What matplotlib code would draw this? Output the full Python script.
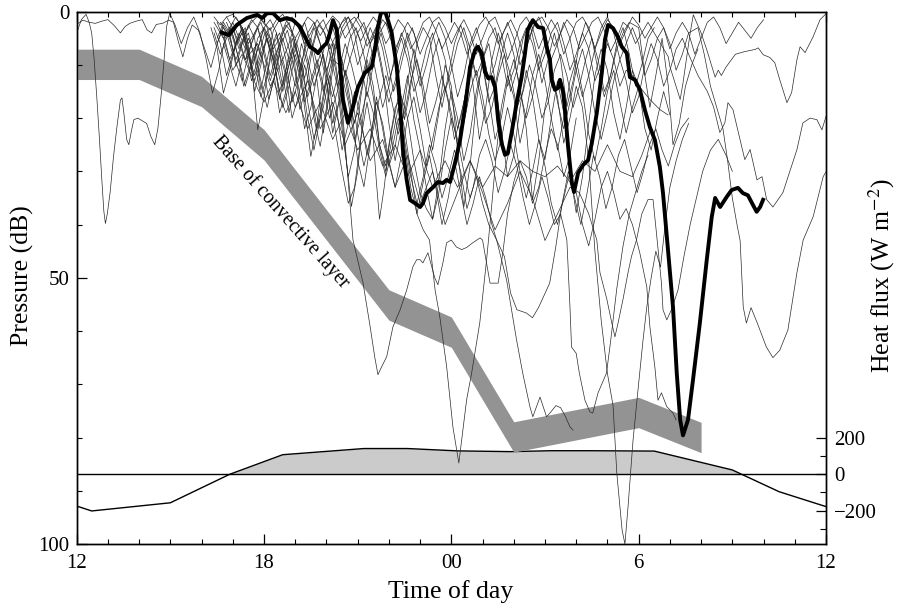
import numpy as np
import matplotlib
matplotlib.use("Agg")
import matplotlib.pyplot as plt
from matplotlib.ticker import FixedLocator, MultipleLocator

# ---------------------------------------------------------------------------
# Data: time in hours after 12:00, pressure in dB, heat flux in W m^-2
# ---------------------------------------------------------------------------
hour_ticks = [0, 6, 12, 18, 24]
hour_labels = ["12", "18", "00", "6", "12"]

# heat flux (positive = cooling of the surface)
flux_hours = [0.0, 0.48, 3.0, 4.9, 6.6, 9.2, 10.6, 12.2, 13.9, 15.2, 16.4, 18.5, 21.0, 22.5, 24.0]
flux_wm2 = [-175, -202, -157, 0, 108, 142, 142, 129, 125, 130, 130, 128, 24, -96, -178]

# base of the convective layer (centre of the shaded band) and half-width
band_hours = [0.0, 2.0, 4.0, 6.0, 10.0, 12.0, 14.0, 18.0, 20.0]
band_dbar = [9.9, 9.9, 15.0, 25.0, 55.1, 60.2, 79.9, 75.3, 80.0]
band_half_width = 2.85

# highlighted float
float_bold = [(4.59, 3.8), (4.87, 4.4), (5.13, 2.5), (5.45, 1.2), (5.78, 0.6), (5.94, 1.2), (6.10, 0.3),
              (6.29, 0.3), (6.51, 1.6), (6.73, 1.2), (6.93, 1.6), (7.15, 2.8), (7.31, 4.7), (7.47, 6.6),
              (7.63, 7.2), (7.73, 7.8), (7.85, 6.8), (8.01, 5.9), (8.11, 4.0), (8.21, 1.6), (8.33, 3.4),
              (8.43, 9.6), (8.53, 16.6), (8.69, 20.9), (8.85, 17.9), (9.01, 14.2), (9.23, 11.5), (9.45, 10.4),
              (9.55, 7.2), (9.65, 2.9), (9.74, 0.3), (9.88, 0.0), (9.97, 1.6), (10.09, 4.0), (10.25, 10.4),
              (10.36, 17.9), (10.45, 26.0), (10.57, 31.6), (10.68, 35.4), (10.84, 36.0), (11.0, 36.7),
              (11.09, 36.0), (11.21, 34.1), (11.41, 33.0), (11.57, 32.0), (11.73, 32.2), (11.85, 31.6),
              (11.96, 32.0), (12.12, 28.4), (12.28, 24.1), (12.44, 17.9), (12.6, 10.4), (12.76, 7.2),
              (12.85, 6.6), (12.97, 7.8), (13.08, 11.3), (13.18, 12.5), (13.29, 12.3), (13.4, 14.2),
              (13.5, 20.4), (13.61, 24.7), (13.72, 26.9), (13.81, 26.6), (13.93, 22.8), (14.09, 17.2),
              (14.25, 12.3), (14.36, 7.8), (14.45, 3.4), (14.61, 1.6), (14.78, 2.9), (14.94, 3.1),
              (15.05, 6.6), (15.16, 9.1), (15.21, 12.8), (15.32, 14.7), (15.42, 14.3), (15.48, 12.8),
              (15.58, 15.1), (15.64, 18.5), (15.74, 25.4), (15.86, 32.2), (15.93, 33.9), (16.06, 30.3),
              (16.22, 28.8), (16.38, 27.9), (16.5, 24.7), (16.66, 19.0), (16.82, 11.5), (16.92, 5.3),
              (17.02, 2.5), (17.18, 3.1), (17.34, 4.8), (17.46, 6.6), (17.62, 7.8), (17.72, 12.3),
              (17.88, 12.8), (18.04, 14.7), (18.2, 18.5), (18.36, 21.7), (18.52, 24.1), (18.68, 29.2),
              (18.78, 34.1), (18.94, 44.8), (19.1, 55.5), (19.22, 67.9), (19.33, 76.7), (19.42, 79.6),
              (19.58, 76.7), (19.74, 69.2), (19.96, 58.5), (20.18, 46.7), (20.34, 38.6), (20.45, 35.0),
              (20.61, 36.7), (20.82, 34.8), (20.98, 33.5), (21.18, 33.1), (21.34, 34.1), (21.5, 34.5),
              (21.66, 36.3), (21.78, 37.6), (21.89, 36.7), (22.01, 35.0)]

# other floats
float01 = [(0.0, 2.4), (0.2, 1.6), (0.4, 2.0), (0.6, 2.2), (0.8, 1.8), (1.0, 1.5), (1.2, 2.6), (1.4, 4.0),
           (1.55, 2.8), (1.7, 2.2), (1.9, 1.8), (2.1, 1.5), (2.25, 3.4), (2.4, 4.0), (2.55, 2.4), (2.75, 2.2),
           (2.95, 1.6), (3.1, 2.0), (3.25, 5.5), (3.4, 8.5), (3.55, 5.0), (3.7, 2.5), (3.9, 3.5), (4.1, 7.0),
           (4.3, 10.5), (4.5, 6.0), (4.7, 2.5), (4.9, 4.5), (5.1, 9.5), (5.3, 13.0), (5.5, 8.0), (5.7, 4.0),
           (5.9, 2.0), (6.1, 5.5), (6.3, 9.0), (6.5, 6.0), (6.7, 2.5), (6.9, 4.0), (7.1, 8.5), (7.3, 12.5),
           (7.5, 7.5), (7.7, 3.0), (7.9, 1.5), (8.1, 4.5), (8.3, 7.0), (8.5, 4.0), (8.7, 2.0), (8.9, 1.0),
           (9.1, 3.0), (9.3, 6.5), (9.5, 4.0), (9.7, 1.5)]

float02 = [(0.0, 4.0), (0.15, 1.5), (0.3, 0.5), (0.4, 2.0), (0.48, 4.0), (0.56, 9.0), (0.65, 16.6),
           (0.73, 24.0), (0.81, 32.0), (0.87, 37.5), (0.92, 39.8), (0.98, 38.0), (1.07, 34.0), (1.18, 27.2),
           (1.29, 21.6), (1.4, 16.6), (1.45, 16.2), (1.52, 19.5), (1.6, 24.0), (1.67, 25.0), (1.75, 22.5),
           (1.83, 20.3), (1.96, 20.0), (2.1, 20.5), (2.24, 21.0), (2.38, 23.5), (2.5, 25.0), (2.6, 22.0),
           (2.7, 16.0), (2.8, 9.0), (2.88, 2.8), (2.98, 0.3), (3.15, 2.5), (3.35, 6.0), (3.55, 3.0),
           (3.75, 1.0), (3.95, 4.0), (4.15, 9.0), (4.35, 15.3), (4.55, 11.0), (4.75, 5.0), (4.95, 3.0),
           (5.15, 8.0), (5.35, 14.0), (5.55, 10.3), (5.75, 6.0), (5.95, 9.0), (6.15, 16.5), (6.35, 12.0),
           (6.55, 6.0), (6.75, 3.5), (6.95, 8.0), (7.15, 18.4), (7.35, 14.0), (7.55, 7.0), (7.75, 2.5),
           (7.95, 4.0), (8.15, 9.0), (8.35, 14.0), (8.55, 10.0), (8.75, 5.0), (8.95, 3.0), (9.15, 7.0),
           (9.35, 12.0), (9.55, 8.0), (9.75, 4.0), (9.95, 9.0), (10.15, 15.0), (10.35, 11.0), (10.55, 6.0),
           (10.75, 3.0), (10.95, 7.0)]

float03 = [(4.4, 3.0), (4.6, 6.0), (4.8, 12.0), (5.0, 8.0), (5.2, 4.0), (5.4, 7.0), (5.6, 13.0), (5.8, 9.0),
           (6.0, 4.5), (6.2, 3.0), (6.4, 8.0), (6.6, 14.0), (6.8, 10.0), (7.0, 5.0), (7.2, 9.0), (7.4, 17.0),
           (7.6, 24.0), (7.8, 19.0), (8.0, 12.0), (8.2, 6.0), (8.4, 14.0), (8.6, 26.0), (8.8, 36.6),
           (9.0, 30.0), (9.2, 18.0), (9.4, 9.0), (9.6, 5.0), (9.8, 11.0), (10.0, 21.0), (10.2, 28.0),
           (10.4, 22.0), (10.6, 13.0), (10.8, 7.0), (11.0, 12.0), (11.2, 20.0), (11.4, 26.0), (11.6, 19.0),
           (11.8, 10.0), (12.0, 14.0), (12.2, 26.0), (12.4, 36.7), (12.6, 29.0), (12.8, 17.0), (13.0, 9.0),
           (13.2, 6.0), (13.4, 13.0), (13.6, 22.0), (13.8, 31.0), (14.0, 27.0), (14.2, 18.0), (14.4, 11.0),
           (14.6, 16.0), (14.8, 24.0), (15.0, 27.8), (15.2, 20.0), (15.4, 13.0), (15.6, 19.0), (15.8, 30.0),
           (16.0, 37.8), (16.2, 31.0), (16.4, 21.0), (16.6, 12.0), (16.8, 7.0), (17.0, 11.0), (17.2, 19.0),
           (17.4, 24.0), (17.6, 18.0), (17.8, 11.0), (18.0, 14.0), (18.2, 22.0), (18.4, 26.0), (18.6, 20.0),
           (18.8, 15.0), (19.0, 19.4)]

float04 = [(4.5, 5.0), (4.7, 2.0), (4.9, 4.0), (5.1, 10.3), (5.3, 6.0), (5.5, 2.5), (5.7, 5.0), (5.9, 14.7),
           (6.1, 9.0), (6.3, 3.5), (6.5, 1.5), (6.7, 5.0), (6.9, 9.0), (7.1, 5.0), (7.3, 2.0), (7.5, 6.0),
           (7.7, 13.0), (7.9, 22.8), (8.1, 15.0), (8.3, 7.0), (8.5, 3.0), (8.7, 1.0), (8.9, 4.0), (9.1, 10.0),
           (9.3, 16.0), (9.5, 10.0), (9.7, 4.0), (9.9, 2.0), (10.1, 6.0), (10.3, 12.0), (10.5, 20.3),
           (10.7, 14.0), (10.9, 6.0), (11.1, 3.0), (11.3, 5.0), (11.5, 12.0), (11.7, 18.0), (11.9, 12.0),
           (12.1, 6.0), (12.3, 2.5), (12.5, 6.0), (12.7, 14.0), (12.9, 24.0), (13.1, 18.0), (13.3, 9.0),
           (13.5, 4.0), (13.7, 8.0), (13.9, 15.0), (14.1, 11.0), (14.3, 5.0), (14.5, 2.0), (14.7, 7.0),
           (14.9, 13.4), (15.1, 9.0), (15.3, 4.0), (15.5, 9.0), (15.7, 17.9), (15.9, 13.0), (16.1, 6.0),
           (16.3, 2.0), (16.5, 5.0), (16.7, 11.0), (16.9, 16.0), (17.1, 12.0), (17.3, 6.0), (17.5, 3.0),
           (17.7, 8.0), (17.9, 14.0), (18.1, 10.0), (18.3, 5.0), (18.5, 3.0)]

float05 = [(4.6, 2.0), (4.8, 4.0), (5.0, 8.0), (5.2, 5.0), (5.4, 3.0), (5.6, 10.0), (5.8, 22.2), (6.0, 16.0),
           (6.2, 8.0), (6.4, 4.0), (6.6, 12.0), (6.8, 19.0), (7.0, 13.0), (7.2, 6.0), (7.4, 10.0), (7.6, 20.0),
           (7.8, 25.3), (8.0, 18.0), (8.2, 9.0), (8.4, 10.0), (8.6, 25.0), (8.85, 42.9), (9.17, 50.9),
           (9.4, 59.2), (9.55, 65.0), (9.65, 68.2), (9.72, 67.3), (9.93, 64.8), (10.13, 59.2), (10.36, 56.0),
           (10.57, 52.3), (10.77, 47.9), (10.89, 46.6), (11.0, 46.6), (11.09, 47.2), (11.25, 45.3),
           (11.47, 50.0), (11.57, 51.3), (11.73, 47.2), (11.85, 43.4), (12.0, 42.9), (12.16, 44.2),
           (12.33, 44.7), (12.49, 44.3), (12.69, 43.4), (12.92, 42.5), (13.0, 42.9), (13.24, 51.0),
           (13.5, 51.0), (13.65, 45.3), (13.8, 38.0), (14.0, 32.0), (14.2, 28.0), (14.4, 31.0), (14.6, 36.0),
           (14.8, 33.0), (15.0, 27.0), (15.2, 22.0), (15.4, 25.0), (15.6, 31.0), (15.8, 27.0), (16.0, 20.0)]

float06 = [(4.7, 4.0), (4.9, 9.0), (5.1, 6.0), (5.3, 3.0), (5.5, 7.0), (5.7, 15.0), (5.9, 10.0), (6.1, 4.0),
           (6.3, 8.0), (6.5, 16.5), (6.7, 11.0), (6.9, 5.0), (7.1, 9.0), (7.3, 18.0), (7.5, 27.2), (7.7, 21.0),
           (7.9, 12.0), (8.1, 6.0), (8.3, 11.0), (8.5, 22.0), (8.7, 31.0), (8.9, 26.0), (9.1, 16.0),
           (9.3, 9.0), (9.5, 14.0), (9.7, 25.0), (9.9, 29.0), (10.1, 22.0), (10.3, 16.0), (10.5, 22.0),
           (10.7, 30.0), (10.9, 38.0), (11.1, 41.0), (11.3, 42.9), (11.48, 52.3), (11.63, 57.3),
           (11.85, 66.7), (12.05, 78.0), (12.24, 84.8), (12.49, 72.9), (12.65, 67.9), (12.91, 58.5),
           (13.13, 46.6), (13.3, 36.0), (13.45, 26.0), (13.6, 18.0), (13.8, 12.0), (14.0, 16.0),
           (14.2, 24.7), (14.4, 19.0), (14.6, 12.0), (14.8, 8.0), (15.0, 13.0), (15.2, 20.0), (15.4, 26.0),
           (15.6, 20.0), (15.8, 13.0), (16.0, 9.0), (16.2, 15.0), (16.4, 23.0), (16.6, 28.0), (16.8, 22.0),
           (17.0, 15.0), (17.2, 11.0), (17.4, 17.0), (17.6, 22.8), (17.8, 18.0), (18.0, 14.0)]

float07 = [(4.8, 2.0), (5.0, 5.0), (5.2, 9.0), (5.4, 14.0), (5.6, 10.0), (5.8, 5.0), (6.0, 3.0), (6.2, 7.0),
           (6.4, 12.0), (6.6, 18.0), (6.8, 14.0), (7.0, 8.0), (7.2, 12.0), (7.4, 20.0), (7.6, 26.0),
           (7.8, 20.0), (8.0, 13.0), (8.2, 22.8), (8.4, 17.0), (8.6, 11.0), (8.8, 18.0), (9.0, 28.0),
           (9.2, 32.9), (9.4, 25.0), (9.6, 16.0), (9.8, 22.0), (10.0, 29.0), (10.2, 25.4), (10.4, 18.0),
           (10.6, 12.0), (10.8, 20.3), (11.0, 26.0), (11.2, 33.0), (11.4, 39.0), (11.6, 32.0), (11.8, 22.0),
           (12.0, 15.0), (12.2, 20.0), (12.4, 28.0), (12.6, 23.0), (12.8, 15.0), (13.0, 10.0), (13.2, 16.0),
           (13.4, 24.0), (13.6, 20.0), (13.8, 13.0), (14.0, 9.0), (14.2, 14.0), (14.4, 22.0), (14.6, 35.4),
           (14.8, 28.0), (15.0, 18.0), (15.2, 12.0), (15.4, 16.0), (15.6, 24.7), (15.8, 20.0), (16.0, 14.0),
           (16.2, 18.0), (16.4, 28.0), (16.6, 45.0), (16.8, 58.0), (17.0, 68.0), (17.18, 74.0),
           (17.3, 86.7), (17.47, 97.4), (17.56, 100.0), (17.66, 93.0), (17.82, 80.5), (17.98, 71.0),
           (18.14, 61.7), (18.26, 55.5), (18.4, 50.0), (18.55, 45.0), (18.7, 48.0), (18.85, 40.0),
           (19.0, 33.0), (19.2, 28.0), (19.4, 24.0), (19.6, 21.0)]

float08 = [(4.3, 3.0), (4.5, 7.0), (4.7, 15.3), (4.9, 11.0), (5.1, 6.0), (5.3, 3.0), (5.5, 8.0), (5.7, 13.0),
           (5.9, 9.0), (6.1, 5.0), (6.3, 11.0), (6.5, 19.0), (6.7, 15.0), (6.9, 9.0), (7.1, 14.0), (7.3, 22.0),
           (7.5, 18.0), (7.7, 12.0), (7.9, 8.0), (8.1, 14.0), (8.3, 23.0), (8.5, 30.0), (8.7, 36.0),
           (8.9, 33.0), (9.1, 24.0), (9.3, 17.0), (9.5, 24.0), (9.6, 32.0), (9.7, 39.0), (9.85, 33.0),
           (10.0, 25.0), (10.2, 18.0), (10.4, 16.0), (10.6, 20.0), (10.8, 28.0), (11.0, 34.0), (11.2, 37.0),
           (11.4, 39.0), (11.6, 34.0), (11.8, 26.0), (12.0, 20.0), (12.2, 24.0), (12.4, 30.0), (12.6, 35.0),
           (12.8, 31.0), (13.0, 36.0), (13.2, 40.0), (13.45, 42.9), (13.7, 46.0), (13.9, 52.9), (14.1, 56.0),
           (14.4, 56.6), (14.6, 57.5), (14.8, 55.5), (15.15, 51.0), (15.35, 44.0), (15.55, 36.0),
           (15.75, 30.0), (15.95, 35.0), (16.15, 40.0), (16.35, 34.0), (16.55, 27.0), (16.75, 31.0),
           (16.95, 37.0), (17.15, 33.0), (17.35, 27.0), (17.55, 24.0), (17.75, 29.0), (17.95, 34.0),
           (18.15, 30.0), (18.35, 25.0), (18.55, 22.0), (18.75, 26.0), (18.95, 29.0), (19.15, 25.0),
           (19.35, 22.0), (19.6, 20.0)]

float09 = [(4.5, 6.0), (4.7, 3.0), (4.9, 5.0), (5.1, 9.0), (5.3, 6.0), (5.5, 4.0), (5.7, 9.0), (5.9, 16.0),
           (6.1, 12.0), (6.3, 6.0), (6.5, 4.0), (6.7, 9.0), (6.9, 17.0), (7.1, 13.0), (7.3, 7.0), (7.5, 5.0),
           (7.7, 10.0), (7.9, 15.0), (8.1, 11.0), (8.3, 6.0), (8.5, 9.0), (8.7, 16.0), (8.9, 21.0),
           (9.1, 15.0), (9.3, 10.0), (9.5, 16.0), (9.7, 25.0), (9.9, 30.0), (10.1, 24.0), (10.3, 18.0),
           (10.5, 25.0), (10.7, 33.0), (10.9, 38.0), (11.1, 32.0), (11.3, 27.0), (11.5, 33.0), (11.7, 40.0),
           (11.9, 35.0), (12.1, 28.0), (12.3, 34.0), (12.5, 40.0), (12.7, 36.0), (12.9, 31.0), (13.1, 35.0),
           (13.3, 40.0), (13.45, 42.9), (13.77, 50.4), (14.09, 61.7), (14.29, 68.0), (14.52, 74.3),
           (14.61, 76.1), (14.84, 72.4), (15.05, 76.1), (15.16, 75.4), (15.35, 74.0), (15.5, 74.4),
           (15.65, 76.0), (15.8, 78.0), (15.9, 78.6)]

float10 = [(5.0, 3.0), (5.4, 9.0), (5.8, 6.0), (6.2, 14.0), (6.6, 9.0), (7.0, 18.0), (7.4, 13.0), (7.8, 22.0),
           (8.2, 17.0), (8.6, 25.0), (9.0, 19.0), (9.4, 28.0), (9.8, 24.0), (10.2, 33.0), (10.6, 27.0),
           (11.0, 36.0), (11.4, 30.0), (11.8, 40.0), (12.2, 34.0), (12.6, 28.0), (13.0, 34.0), (13.4, 41.0),
           (13.8, 36.0), (14.2, 30.0), (14.6, 35.0), (15.0, 43.0), (15.4, 38.0), (15.8, 33.0), (16.1, 34.0),
           (16.4, 38.0), (16.66, 42.9), (16.76, 49.0), (16.98, 54.0),
           (17.14, 58.5), (17.24, 61.1), (17.34, 58.5), (17.5, 54.0), (17.66, 49.0), (17.77, 46.0),
           (17.93, 42.9), (18.1, 38.0), (18.3, 35.3), (18.46, 35.3), (18.57, 41.6), (18.73, 51.0),
           (18.78, 56.0), (18.9, 57.9), (19.05, 56.0), (19.26, 52.3), (19.45, 46.0), (19.65, 40.0),
           (19.85, 35.0), (20.05, 30.0), (20.3, 26.0), (20.55, 24.0), (20.8, 27.0), (21.0, 30.0)]

float11 = [(5.2, 2.0), (5.4, 6.0), (5.6, 11.0), (5.8, 7.0), (6.0, 3.0), (6.2, 5.0), (6.4, 10.0), (6.6, 15.0),
           (6.8, 10.0), (7.0, 6.0), (7.2, 11.0), (7.4, 16.0), (7.6, 12.0), (7.8, 8.0), (8.0, 13.0), (8.2, 21.0),
           (8.4, 17.0), (8.6, 11.0), (8.8, 15.0), (9.0, 23.0), (9.2, 29.0), (9.4, 24.0), (9.6, 17.0),
           (9.8, 21.0), (10.0, 28.0), (10.2, 33.0), (10.4, 27.0), (10.6, 20.0), (10.8, 16.0), (11.0, 22.0),
           (11.2, 29.0), (11.4, 24.0), (11.6, 18.0), (11.8, 14.0), (12.0, 19.0), (12.2, 25.0), (12.4, 21.0),
           (12.6, 15.0), (12.8, 11.0), (13.0, 16.0), (13.2, 23.0), (13.4, 28.0), (13.6, 24.0), (13.8, 18.0),
           (14.0, 23.0), (14.2, 30.0), (14.4, 35.0), (14.6, 30.0), (14.8, 24.0), (15.0, 29.0), (15.2, 36.0),
           (15.4, 40.0), (15.6, 35.0), (15.8, 30.0), (16.0, 34.0), (16.2, 40.0), (16.4, 44.0), (16.6, 39.0),
           (16.8, 33.0), (17.0, 30.0), (17.2, 34.0), (17.4, 39.0), (17.6, 37.0), (17.8, 40.0), (17.93, 42.9),
           (18.04, 45.4), (18.26, 51.7), (18.36, 59.2), (18.52, 66.8), (18.62, 73.0), (18.73, 71.6),
           (18.9, 74.2), (19.1, 75.4), (19.2, 76.7)]

float12 = [(4.4, 4.0), (4.6, 8.0), (4.8, 5.0), (5.0, 2.0), (5.2, 5.0), (5.4, 9.0), (5.6, 6.0), (5.8, 3.0),
           (6.0, 7.0), (6.2, 12.0), (6.4, 8.0), (6.6, 4.0), (6.8, 2.0), (7.0, 6.0), (7.2, 11.0), (7.4, 7.0),
           (7.6, 3.0), (7.8, 6.0), (8.0, 12.0), (8.2, 16.0), (8.4, 11.0), (8.6, 6.0), (8.8, 10.0), (9.0, 15.0),
           (9.2, 11.0), (9.4, 6.0), (9.6, 3.0), (9.8, 7.0), (10.0, 13.0), (10.2, 9.0), (10.4, 5.0), (10.6, 9.0),
           (10.8, 15.0), (11.0, 12.0), (11.2, 7.0), (11.4, 4.0), (11.6, 9.0), (11.8, 15.0), (12.0, 11.0),
           (12.2, 6.0), (12.4, 3.0), (12.6, 7.0), (12.8, 12.0), (13.0, 9.0), (13.2, 5.0), (13.4, 3.0),
           (13.6, 8.0), (13.8, 14.0), (14.0, 11.0), (14.2, 6.0), (14.4, 3.0), (14.6, 6.0), (14.8, 11.0),
           (15.0, 8.0), (15.2, 4.0), (15.4, 2.0), (15.6, 6.0), (15.8, 11.0), (16.0, 8.0), (16.2, 4.0),
           (16.4, 7.0), (16.6, 13.0), (16.8, 10.0), (17.0, 6.0), (17.2, 9.0), (17.4, 14.0), (17.6, 11.0),
           (17.8, 12.0), (18.04, 14.2), (18.36, 16.5), (18.68, 18.4), (18.94, 19.4)]

float13 = [(4.8, 1.0), (5.0, 3.0), (5.2, 7.0), (5.4, 4.0), (5.6, 1.5), (5.8, 3.0), (6.0, 8.0), (6.2, 13.0),
           (6.4, 9.0), (6.6, 5.0), (6.8, 9.0), (7.0, 14.0), (7.2, 10.0), (7.4, 4.0), (7.6, 2.0), (7.8, 6.0),
           (8.0, 11.0), (8.2, 8.0), (8.4, 3.0), (8.6, 1.0), (8.8, 5.0), (9.0, 10.0), (9.2, 7.0), (9.4, 3.0),
           (9.6, 6.0), (9.8, 12.0), (10.0, 17.0), (10.2, 13.0), (10.4, 8.0), (10.6, 4.0), (10.8, 8.0),
           (11.0, 14.0), (11.2, 10.0), (11.4, 5.0), (11.6, 2.0), (11.8, 5.0), (12.0, 10.0), (12.2, 16.0),
           (12.4, 12.0), (12.6, 6.0), (12.8, 3.0), (13.0, 7.0), (13.2, 13.0), (13.4, 10.0), (13.6, 5.0),
           (13.8, 2.0), (14.0, 5.0), (14.2, 10.0), (14.4, 7.0), (14.6, 3.0), (14.8, 1.0), (15.0, 4.0),
           (15.2, 9.0), (15.4, 6.0), (15.6, 2.0), (15.8, 5.0), (16.0, 11.0), (16.2, 16.0), (16.4, 12.0),
           (16.6, 7.0), (16.8, 3.0), (17.0, 1.0), (17.2, 4.0), (17.4, 9.0), (17.6, 6.0), (17.8, 3.0),
           (18.0, 6.0), (18.2, 12.0), (18.4, 9.0), (18.6, 5.0), (18.8, 3.0), (19.0, 6.0), (19.2, 11.0),
           (19.4, 8.0), (19.6, 4.0), (19.9, 3.0), (20.1, 8.0), (20.3, 14.0), (20.5, 18.0), (20.7, 22.0),
           (20.85, 28.0), (21.0, 35.0), (21.15, 40.0), (21.25, 43.0), (21.35, 55.5), (21.45, 58.5),
           (21.6, 55.6), (21.8, 58.5), (22.09, 63.0), (22.3, 65.0), (22.52, 63.6), (22.78, 59.8),
           (23.07, 49.0), (23.27, 42.9), (23.59, 38.5), (23.91, 31.0), (24.0, 30.1)]

float14 = [(5.0, 4.0), (5.2, 2.0), (5.4, 5.0), (5.6, 10.0), (5.8, 7.0), (6.0, 3.0), (6.2, 1.5), (6.4, 4.0),
           (6.6, 9.0), (6.8, 6.0), (7.0, 2.0), (7.2, 4.0), (7.4, 9.0), (7.6, 14.0), (7.8, 10.0), (8.0, 5.0),
           (8.2, 3.0), (8.4, 7.0), (8.6, 12.0), (8.8, 8.0), (9.0, 4.0), (9.2, 2.0), (9.4, 6.0), (9.6, 12.0),
           (9.8, 18.0), (10.0, 14.0), (10.2, 8.0), (10.4, 4.0), (10.6, 7.0), (10.8, 13.0), (11.0, 19.0),
           (11.2, 15.0), (11.4, 9.0), (11.6, 5.0), (11.8, 9.0), (12.0, 16.0), (12.2, 22.0), (12.4, 17.0),
           (12.6, 11.0), (12.8, 6.0), (13.0, 10.0), (13.2, 17.0), (13.4, 14.0), (13.6, 8.0), (13.8, 4.0),
           (14.0, 8.0), (14.2, 15.0), (14.4, 20.0), (14.6, 16.0), (14.8, 10.0), (15.0, 6.0), (15.2, 10.0),
           (15.4, 17.0), (15.6, 22.0), (15.8, 17.0), (16.0, 11.0), (16.2, 7.0), (16.4, 12.0), (16.6, 19.0),
           (16.8, 24.0), (17.0, 19.0), (17.2, 13.0), (17.4, 9.0), (17.6, 13.0), (17.8, 19.0), (18.0, 16.0),
           (18.2, 10.0), (18.4, 6.0), (18.6, 9.0), (18.8, 14.0), (19.0, 11.0), (19.2, 7.0), (19.4, 5.0),
           (19.6, 8.0), (19.9, 12.0), (20.2, 15.0), (20.4, 17.9), (20.6, 22.7), (20.76, 20.9), (20.86, 17.1),
           (21.02, 18.4), (21.25, 24.1), (21.4, 27.8), (21.57, 25.9), (21.79, 31.6), (21.95, 31.0),
           (22.1, 35.3), (22.3, 36.7), (22.62, 34.0), (23.07, 25.9), (23.26, 20.9), (23.49, 20.0),
           (23.71, 20.3), (23.87, 22.2), (24.0, 19.7)]

float15 = [(4.5, 2.0), (4.7, 5.0), (4.9, 3.0), (5.1, 1.0), (5.3, 3.0), (5.5, 6.0), (5.7, 4.0), (5.9, 1.5),
           (6.1, 3.0), (6.3, 7.0), (6.5, 5.0), (6.7, 2.0), (6.9, 1.0), (7.1, 3.0), (7.3, 6.0), (7.5, 4.0),
           (7.7, 1.5), (7.9, 3.5), (8.1, 7.0), (8.3, 4.5), (8.5, 2.0), (8.7, 1.0), (8.9, 3.0), (9.1, 5.5),
           (9.3, 3.0), (9.5, 1.0), (9.7, 2.5), (9.9, 6.0), (10.1, 4.0), (10.3, 1.5), (10.5, 3.0), (10.7, 7.0),
           (10.9, 5.0), (11.1, 2.0), (11.3, 1.0), (11.5, 3.5), (11.7, 7.0), (11.9, 4.5), (12.1, 2.0),
           (12.3, 4.0), (12.5, 8.0), (12.7, 5.5), (12.9, 2.5), (13.1, 1.0), (13.3, 3.0), (13.5, 6.0),
           (13.7, 3.5), (13.9, 1.5), (14.1, 4.0), (14.3, 8.0), (14.5, 5.0), (14.7, 2.0), (14.9, 1.0),
           (15.1, 3.0), (15.3, 6.5), (15.5, 4.0), (15.7, 1.5), (15.9, 3.0), (16.1, 7.0), (16.3, 4.5),
           (16.5, 2.0), (16.7, 1.0), (16.9, 3.5), (17.1, 7.5), (17.3, 5.0), (17.5, 2.0), (17.7, 3.0),
           (17.9, 6.0), (18.1, 4.0), (18.3, 2.0), (18.6, 5.0), (18.8, 7.0), (18.95, 8.5), (19.0, 10.3),
           (19.33, 16.5), (19.42, 13.4), (19.65, 4.0), (19.75, 0.6), (20.0, 4.0), (20.2, 7.5), (20.35, 10.4),
           (20.45, 12.3), (20.55, 11.0), (20.65, 12.0), (20.8, 10.4), (21.1, 8.0), (21.4, 7.5), (21.73, 7.1),
           (21.83, 6.8), (21.99, 8.1), (22.2, 8.6), (22.36, 9.6), (22.52, 12.8), (22.75, 17.1), (22.9, 15.2),
           (23.07, 9.0), (23.17, 6.6), (23.33, 7.7), (23.59, 4.7), (23.81, 1.5), (24.0, 0.4)]

float16 = [(4.7, 6.0), (4.9, 10.0), (5.1, 14.0), (5.3, 9.0), (5.5, 5.0), (5.7, 8.0), (5.9, 13.0), (6.1, 18.0),
           (6.3, 13.0), (6.5, 8.0), (6.7, 12.0), (6.9, 20.0), (7.1, 16.0), (7.3, 10.0), (7.5, 15.0), (7.7, 22.0),
           (7.9, 18.0), (8.1, 12.0), (8.3, 17.0), (8.5, 26.0), (8.7, 21.0), (8.9, 15.0), (9.1, 20.0),
           (9.3, 27.0), (9.5, 22.0), (9.7, 16.0), (9.9, 12.0), (10.1, 17.0), (10.3, 23.0), (10.5, 19.0),
           (10.7, 13.0), (10.9, 9.0), (11.1, 14.0), (11.3, 21.0), (11.5, 17.0), (11.7, 12.0), (11.9, 17.0),
           (12.1, 24.0), (12.3, 20.0), (12.5, 14.0), (12.7, 10.0), (12.9, 15.0), (13.1, 21.0), (13.3, 18.0),
           (13.5, 12.0), (13.7, 8.0), (13.9, 12.0), (14.1, 18.0), (14.3, 15.0), (14.5, 10.0), (14.7, 14.0),
           (14.9, 20.0), (15.1, 17.0), (15.3, 11.0), (15.5, 8.0), (15.7, 12.0), (15.9, 18.0), (16.1, 14.0),
           (16.3, 9.0), (16.5, 5.0), (16.7, 9.0), (16.9, 15.0), (17.1, 12.0), (17.3, 7.0), (17.5, 4.0),
           (17.7, 2.0), (18.0, 3.0), (18.2, 12.0), (18.36, 18.0), (18.55, 12.0), (18.75, 5.0), (18.95, 14.0),
           (19.1, 25.0), (19.3, 21.0), (19.5, 14.0), (19.7, 10.0), (19.9, 7.0)]

float17 = [(4.4, 2.0), (4.7, 5.0), (5.0, 11.0), (5.3, 8.0), (5.6, 12.0), (6.0, 17.0), (6.3, 13.0),
           (6.7, 19.0), (7.0, 15.0), (7.4, 22.0), (7.8, 17.0), (8.2, 24.0), (8.6, 19.0), (9.0, 26.0),
           (9.4, 22.0), (9.8, 29.0), (10.2, 25.0), (10.6, 31.0), (11.0, 26.0), (11.4, 33.0), (11.8, 28.0),
           (12.2, 33.0), (12.6, 28.0), (13.0, 33.0), (13.4, 29.0), (13.8, 31.0), (14.2, 28.0), (14.6, 30.0),
           (15.0, 31.0), (15.4, 29.0), (15.8, 32.0), (16.2, 28.0), (16.6, 30.0), (17.0, 25.0), (17.4, 30.0),
           (17.8, 31.0), (18.1, 27.0), (18.4, 22.0)]

float18 = [(4.4, 1.0), (4.6, 2.5), (4.8, 1.0), (5.0, 0.5), (5.2, 2.0), (5.4, 4.0), (5.6, 2.0), (5.8, 0.8),
           (6.0, 2.0), (6.2, 3.5), (6.4, 1.5), (6.6, 0.5), (6.8, 2.5), (7.0, 5.0), (7.2, 3.0), (7.4, 1.0),
           (7.6, 2.0), (7.8, 4.5), (8.0, 2.5), (8.2, 0.8), (8.4, 2.0), (8.6, 5.0), (8.8, 3.0), (9.0, 1.0),
           (9.2, 3.0), (9.4, 6.0), (9.6, 4.0), (9.8, 1.5), (10.0, 3.0), (10.2, 7.0), (10.4, 4.5), (10.6, 2.0),
           (10.8, 4.0), (11.0, 8.0), (11.2, 5.0), (11.4, 2.0), (11.6, 1.0), (11.8, 3.0), (12.0, 6.0),
           (12.2, 3.5), (12.4, 1.5), (12.6, 4.0), (12.8, 8.0), (13.0, 5.0), (13.2, 2.0), (13.4, 1.0),
           (13.6, 4.0), (13.8, 9.0), (14.0, 6.0), (14.2, 2.5), (14.4, 1.0), (14.6, 3.0), (14.8, 7.0),
           (15.0, 4.0), (15.2, 1.5), (15.4, 3.5), (15.6, 8.0), (15.8, 5.0), (16.0, 2.0), (16.2, 1.0),
           (16.4, 3.0), (16.6, 7.0), (16.8, 4.0), (17.0, 1.5), (17.2, 3.0), (17.4, 6.0), (17.6, 3.5),
           (17.8, 1.0), (18.0, 2.5), (18.2, 5.0), (18.4, 3.0), (18.6, 1.0), (18.8, 3.0), (19.0, 7.0),
           (19.2, 4.0), (19.4, 2.0), (19.6, 4.0), (19.8, 8.0), (20.0, 5.0), (20.2, 2.0), (20.4, 1.0),
           (20.6, 3.0), (20.8, 6.0), (21.0, 4.0), (21.2, 2.0), (21.4, 3.5), (21.6, 5.0), (21.8, 3.0),
           (22.0, 1.5)]

float19 = [(4.9, 3.0), (5.1, 6.0), (5.3, 4.0), (5.5, 8.0), (5.7, 12.0), (5.9, 8.0), (6.1, 5.0), (6.3, 9.0),
           (6.5, 15.0), (6.7, 11.0), (6.9, 7.0), (7.1, 11.0), (7.3, 17.0), (7.5, 13.0), (7.7, 9.0), (7.9, 14.0),
           (8.1, 20.0), (8.3, 16.0), (8.5, 12.0), (8.7, 17.0), (8.9, 24.0), (9.1, 20.0), (9.3, 15.0),
           (9.5, 19.0), (9.7, 26.0), (9.9, 31.0), (10.1, 26.0), (10.3, 20.0), (10.5, 24.0), (10.7, 31.0),
           (10.9, 36.0), (11.1, 31.0), (11.3, 25.0), (11.5, 29.0), (11.7, 35.0), (11.9, 31.0), (12.1, 26.0),
           (12.3, 30.0), (12.5, 37.0), (12.7, 33.0), (12.9, 27.0), (13.1, 24.0), (13.3, 28.0), (13.5, 34.0),
           (13.7, 30.0), (13.9, 25.0), (14.1, 29.0), (14.3, 35.0), (14.5, 40.0), (14.7, 36.0), (14.9, 31.0),
           (15.1, 35.0), (15.3, 40.0), (15.5, 38.0), (15.7, 42.9), (15.8, 55.5), (15.85, 63.0), (16.0, 64.2),
           (16.1, 67.9), (16.28, 73.0), (16.44, 75.2), (16.53, 75.4), (16.7, 71.6), (16.97, 67.9),
           (17.1, 62.0), (17.3, 52.0), (17.5, 44.0), (17.7, 38.0), (17.9, 34.0), (18.1, 30.0), (18.3, 27.0)]

thin_floats = [float01, float02, float03, float04, float05, float06, float07, float08, float09, float10,
               float11, float12, float13, float14, float15, float16, float17, float18, float19]

# ---------------------------------------------------------------------------
# Figure
# ---------------------------------------------------------------------------
plt.rcParams["font.family"] = ["Liberation Serif", "DejaVu Serif"]
plt.rcParams["mathtext.fontset"] = "stix"

fig = plt.figure(figsize=(9.14, 6.13), dpi=100)
ax = fig.add_axes([0.0839, 0.1126, 0.8198, 0.8684])
ax_flux = ax.twinx()
# pressure panel on top so the trajectories overlie the flux shading
ax.set_zorder(ax_flux.get_zorder() + 1)
ax.patch.set_visible(False)

# heat flux
fh = np.array(flux_hours)
fw = np.array(flux_wm2, dtype=float)
ax_flux.fill_between(fh, 0, fw, where=fw >= 0, interpolate=True, color="#cbcbcb", lw=0)
ax_flux.plot(fh, fw, color="black", lw=1.0)
ax_flux.axhline(0, color="black", lw=1.0)
ax_flux.set_ylim(-384, 2550)
ax_flux.set_yticks([-200, 0, 200])
ax_flux.set_yticklabels(["\u2212200", "0", "200"])
ax_flux.yaxis.set_minor_locator(FixedLocator([-300, -100, 100]))
ax_flux.tick_params(axis="y", which="both", direction="in", labelsize=15, pad=6)
ax_flux.tick_params(axis="y", which="major", length=7, width=0.9)
ax_flux.tick_params(axis="y", which="minor", length=4.5, width=0.8)

# base of convective layer
bh = np.array(band_hours)
bp = np.array(band_dbar)
ax.fill_between(bh, bp - band_half_width, bp + band_half_width, color="#939393", lw=0, zorder=1)
ax.text(6.52, 37.6, "Base of convective layer", rotation=-48.5, rotation_mode="anchor",
        ha="center", va="center", fontsize=14.3, zorder=4)

# float trajectories
for trk in thin_floats:
    t, p = zip(*trk)
    ax.plot(t, p, color="#2a2a2a", lw=0.5, zorder=2)
t, p = zip(*float_bold)
ax.plot(t, p, color="black", lw=2.8, zorder=3, solid_capstyle="butt")

ax.set_xlim(0, 24)
ax.set_ylim(100, 0)
ax.set_xticks(hour_ticks)
ax.set_xticklabels(hour_labels)
ax.xaxis.set_minor_locator(MultipleLocator(1))
ax.set_yticks([0, 50, 100])
ax.yaxis.set_minor_locator(MultipleLocator(10))
ax.tick_params(which="both", direction="in", top=True, right=False, labelsize=15)
ax.tick_params(axis="x", which="both", pad=7)
ax.tick_params(axis="y", which="both", pad=5)
ax.tick_params(which="major", length=7, width=0.9)
ax.tick_params(which="minor", length=3.5, width=0.8)
for a in (ax, ax_flux):
    for s in a.spines.values():
        s.set_linewidth(1.0)

fig.text(451 / 914, 1 - 592 / 613, "Time of day", ha="center", va="center", fontsize=18.5)
fig.text(22 / 914, 1 - 276 / 613, "Pressure (dB)", rotation=90, ha="center", va="center", fontsize=18.5)
fig.text(882 / 914, 1 - 276 / 613, "Heat flux (W m$^{-2}$)", rotation=90, ha="center", va="center",
         fontsize=18.5)

fig.savefig("out.png", dpi=100)
